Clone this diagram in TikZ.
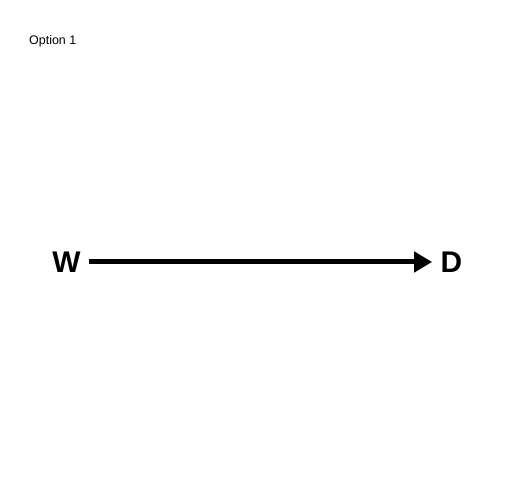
\documentclass[tikz,border=0pt]{standalone}
\usepackage{fontspec}
\setmainfont{Liberation Sans}
\usepackage{tikz}
\usetikzlibrary{arrows.meta, positioning}

\tikzset{
  var/.style={font=\fontsize{30}{32}\selectfont\bfseries, inner sep=8.4bp},
  edge/.style={line width=5bp, -{Triangle[length=18bp, width=20bp]}}
}

\begin{document}
\begin{tikzpicture}[x=1bp, y=1bp]
  \useasboundingbox (0,0) rectangle (504,504);
  % title
  \node[anchor=base west, inner sep=0pt, font=\fontsize{12.5}{14}\selectfont] (title) at (29,459.5) {Option 1};
  % variables
  \node[var] (W) at (66.5,242) {W};
  \node[var] (D) at (451.5,242) {D};
  % arrow
  \draw[edge] (W) -- (D);
\end{tikzpicture}
\end{document}
